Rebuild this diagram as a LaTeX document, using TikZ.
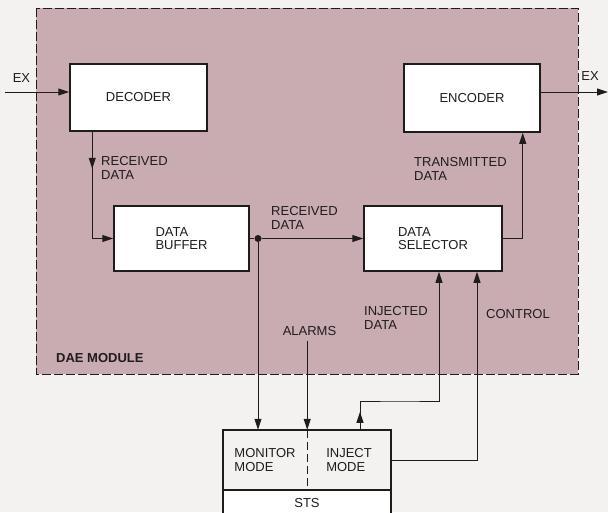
\documentclass[tikz,border=0pt]{standalone}
\usepackage{fontspec}
\setmainfont{Liberation Sans}
\usetikzlibrary{arrows.meta}
\definecolor{paper}{HTML}{F3F2F0}
\definecolor{module}{HTML}{C9ABB2}
\definecolor{ink}{HTML}{201C1C}

\begin{document}
\begin{tikzpicture}[x=1pt,y=-1pt,
    every node/.style={font=\fontsize{13}{13.5}\selectfont,text=ink,inner sep=0pt},
    block/.style={draw=ink,line width=1.5pt,fill=white},
    lbl/.style={align=left,anchor=west},
    wire/.style={draw=ink,line width=1pt},
    conn/.style={wire,-{Stealth[length=11pt,width=7pt,inset=0pt]}},
    dot/.style={circle,fill=ink,minimum size=7pt}]
      % page and module
      \fill[paper] (0,0) rectangle (608,512);
      \clip (0,0) rectangle (608,512);
      \draw[fill=module,draw=ink,line width=1pt,dash pattern=on 9pt off 3pt] (36,8) rectangle (578,374);
      \node[font=\fontsize{13}{13.5}\selectfont\bfseries,anchor=west] (dae) at (56,358) {DAE MODULE};
      % blocks
      \node[block,minimum width=137pt,minimum height=67pt] (decoder) at (138.5,97.5) {DECODER};
      \node[block,minimum width=136pt,minimum height=68pt] (encoder) at (472,98) {ENCODER};
      \node[block,minimum width=135pt,minimum height=65pt,align=left] (buffer) at (181.5,238.5) {DATA\\BUFFER};
      \node[block,minimum width=138pt,minimum height=65pt,align=left] (selector) at (433,238.5) {DATA\\SELECTOR};
      \node[dot] (junc) at (258,238.5) {};
      % sts unit
      \node[minimum width=84pt,minimum height=60pt,align=left] (monitor) at (265,460) {MONITOR\\MODE};
      \node[minimum width=84pt,minimum height=60pt,align=left] (inject) at (349,460) {INJECT\\MODE};
      \node[draw=ink,line width=1.5pt,fill=white,minimum width=168pt,minimum height=26pt] (sts) at (307,503) {STS};
      \draw[ink,line width=1.5pt] (monitor.north west) rectangle (inject.south east);
      \draw[ink,line width=1pt,dash pattern=on 8pt off 4pt] (monitor.north east) -- (monitor.south east);
      % outside lines
      \coordinate (exin) at (5,92);
      \coordinate (exout) at (608,92);
      \node (exl) at (21.5,78) {EX};
      \node (exr) at (590,76) {EX};
      \draw[conn] (exin) -- (exin -| decoder.west);
      \draw[conn] (exout -| encoder.east) -- (exout);
      % data paths
      \draw[conn] ([xshift=23pt]decoder.south west) |- (buffer.west);
      \draw[conn] ([xshift=23pt]decoder.south west) -- ++(0,37);
      \node[lbl] (rx1) at (101,168) {RECEIVED\\DATA};
      \draw[wire] (buffer.east) -- (junc);
      \draw[conn] (junc) -- (selector.west);
      \node[lbl] (rx2) at (271,218) {RECEIVED\\DATA};
      \draw[conn] (selector.east) -| ([xshift=-18pt]encoder.south east);
      \node[lbl] (tx) at (414,169) {TRANSMITTED\\DATA};
      % sts links
      \draw[conn] (junc) -- (junc |- monitor.north);
      \node (alarms) at (309.5,331) {ALARMS};
      \draw[conn] (alarms.south -| monitor.north east) ++(0,5) -- (monitor.north east);
      \coordinate (injbend) at (400,401);
      \draw[conn] ([xshift=11pt]inject.north) |- (injbend) -| ([xshift=6pt]selector.south);
      \draw[conn] ([xshift=11pt]inject.north) -- ++(0,-18);
      \node[lbl] (injd) at (364,318) {INJECTED\\DATA};
      \draw[conn] (inject.east) -| ([xshift=44pt]selector.south);
      \node[lbl] (ctrl) at (486,314) {CONTROL};
    \end{tikzpicture}
\end{document}
